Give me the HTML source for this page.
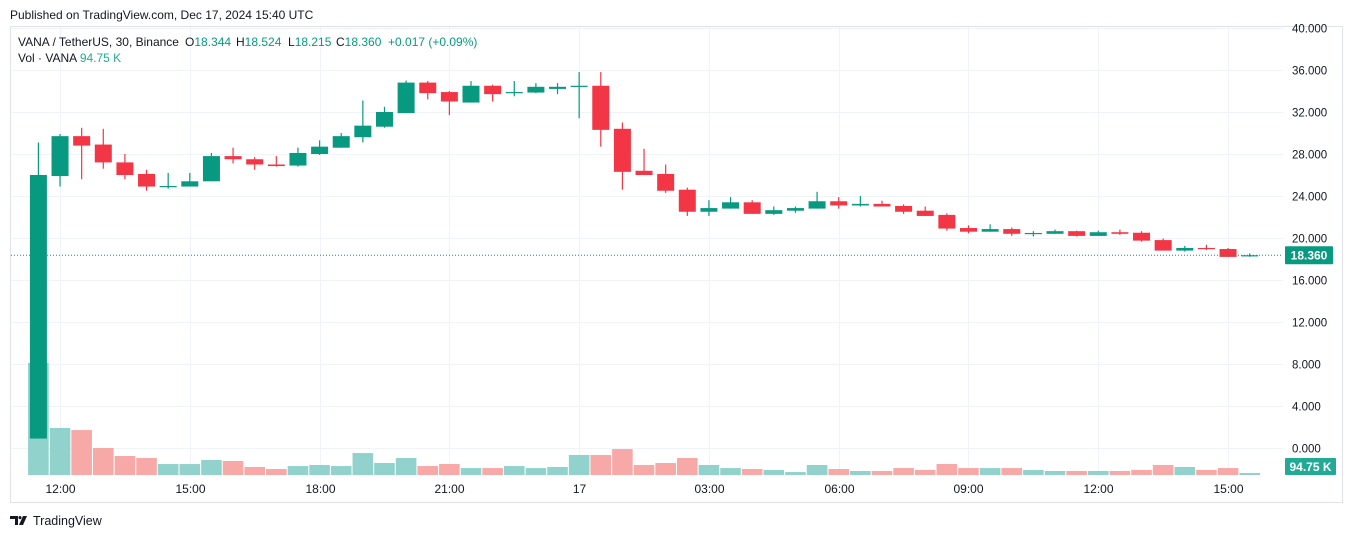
<!DOCTYPE html>
<html><head><meta charset="utf-8"><style>
html,body{margin:0;padding:0;background:#fff;width:1352px;height:538px;overflow:hidden;font-family:"Liberation Sans",sans-serif}
svg text{font-family:"Liberation Sans",sans-serif}
</style></head><body>
<svg id="chart" width="1352" height="538" viewBox="0 0 1352 538" xmlns="http://www.w3.org/2000/svg">
<text x="10" y="19" font-size="12" fill="#131722">Published on TradingView.com, Dec 17, 2024 15:40 UTC</text>
<rect x="10.5" y="26.5" width="1332" height="476" fill="none" stroke="#e0e3eb"/>
<g id="grid"></g>
<g id="vols"></g>
<g id="candles"></g>
<g id="axes"></g>
<g font-size="12">
<text x="18" y="46" fill="#131722">VANA / TetherUS, 30, Binance</text>
<text x="185" y="46" fill="#131722">O<tspan fill="#089981">18.344</tspan></text>
<text x="236" y="46" fill="#131722">H<tspan fill="#089981">18.524</tspan></text>
<text x="288" y="46" fill="#131722">L<tspan fill="#089981">18.215</tspan></text>
<text x="336" y="46" fill="#131722">C<tspan fill="#089981">18.360</tspan></text>
<text x="388" y="46" fill="#089981">+0.017 (+0.09%)</text>
<text x="18" y="62" fill="#131722">Vol · VANA  <tspan fill="#22ab94">94.75 K</tspan></text>
</g>
<g>
<path d="M10 516h8v9h-3v-6h-5z M20 516a1.6 1.6 0 1 0 0.01 0 M23 516h4l-4 9h-4z" fill="#131722"/>
<text x="33" y="525" font-size="12.5" fill="#131722">TradingView</text>
</g>
</svg>
<script>
const timeLabels = ["12:00","15:00","18:00","21:00","17","03:00","06:00","09:00","12:00","15:00"];
const timeLabelIdx = [1,7,13,19,25,31,37,43,49,55];
const priceTicks = [0,4,8,12,16,20,24,28,32,36,40];
const opens  = [0.9,25.9,29.7,28.9,27.2,26.1,24.85,24.9,25.4,27.8,27.5,27.0,26.9,28.0,28.6,29.6,30.6,31.9,34.8,33.9,32.9,34.5,33.8,33.85,34.2,34.45,34.5,30.4,26.4,26.1,24.6,22.5,22.8,23.4,22.3,22.6,22.8,23.5,23.1,23.25,23.05,22.6,22.2,20.95,20.6,20.85,20.42,20.4,20.65,20.2,20.55,20.5,19.8,18.8,19.05,18.95,18.344];
const highs  = [29.1,29.9,30.5,30.4,28.0,26.5,26.2,26.2,28.1,28.6,27.7,27.8,28.6,29.3,30.0,33.1,32.5,35.0,34.95,34.0,34.95,34.6,34.95,34.75,34.75,35.8,35.8,31.0,28.5,27.0,24.8,23.6,23.9,23.6,23.0,23.0,24.4,23.9,24.0,23.55,23.2,23.0,22.35,21.2,21.3,21.0,20.65,20.8,20.7,20.7,20.8,20.65,19.95,19.25,19.35,19.05,18.524];
const lows   = [0.9,24.9,25.6,26.6,25.6,24.5,24.7,24.9,25.4,27.1,26.5,26.8,26.8,27.9,28.6,29.1,30.5,31.9,33.2,31.7,32.9,33.0,33.5,33.8,33.7,31.4,28.7,24.6,26.0,24.3,22.1,22.1,22.8,22.3,22.2,22.4,22.8,22.8,23.0,23.0,22.3,22.1,20.7,20.45,20.6,20.2,20.15,20.4,20.15,20.2,20.3,19.65,18.8,18.7,18.85,18.2,18.215];
const closes = [26.0,29.7,28.8,27.2,26.0,24.9,24.95,25.4,27.8,27.5,27.0,26.85,28.1,28.7,29.7,30.7,32.0,34.8,33.8,33.0,34.5,33.7,33.9,34.4,34.4,34.5,30.3,26.3,26.0,24.5,22.5,22.85,23.4,22.3,22.65,22.85,23.5,23.1,23.25,23.0,22.5,22.1,20.9,20.6,20.85,20.4,20.48,20.65,20.2,20.55,20.4,19.75,18.8,19.05,18.95,18.2,18.36];
const volumesK = [5310,2230,2130,1280,900,805,520,520,710,665,380,285,425,475,425,1040,570,805,425,520,330,330,425,330,380,950,950,1230,475,570,805,475,330,285,240,140,475,285,190,190,330,240,520,330,330,330,240,190,190,190,190,240,475,380,240,330,94.75];
const lastPrice = 18.36;

const NS="http://www.w3.org/2000/svg";
const x0=38.4, step=21.63;
const xAt = i => x0 + i*step;
const yAt = p => 448 - p*10.5;
const volBase = 475, volPerPx = 47.4;
const vh = v => v/volPerPx;
function mk(tag, attrs, parent){const e=document.createElementNS(NS,tag);for(const k in attrs)e.setAttribute(k,attrs[k]);parent.appendChild(e);return e;}
const grid=document.getElementById('grid'), cg=document.getElementById('candles'), vg=document.getElementById('vols'), ax=document.getElementById('axes');

priceTicks.forEach(p=>{
  const y=Math.round(yAt(p))+0.5;
  const l=mk('line',{x1:11,x2:1283,y1:y,y2:y,stroke:'#f0f3fa'},grid);
  
  
  const t=mk('text',{x:1292,y:y+4,'font-size':11.5,fill:'#131722'},ax);
  t.textContent=p.toFixed(3);
  
  
});
timeLabels.forEach((s,k)=>{
  const x=Math.round(xAt(timeLabelIdx[k]))+0.5;
  const l=mk('line',{x1:x,x2:x,y1:27,y2:476,stroke:'#f0f3fa'},grid);
  
  
  const t=mk('text',{x:x,y:493,'font-size':12,fill:'#131722','text-anchor':'middle'},ax);
  t.textContent=s;
  
  
});
volumesK.forEach((v,i)=>{
  const up=closes[i]>=opens[i];
  const h=vh(v);
  const r=mk('rect',{x:xAt(i)-10.3,y:volBase-h,width:20.6,height:h,fill:up?'#92d2cc':'#f7a9a7'},vg);
  
  
});
opens.forEach((o,i)=>{
  const c=closes[i], up=c>=o, col=up?'#089981':'#f23645', x=xAt(i);
  const g=mk('g',{},cg);
  
  
  mk('line',{x1:x,x2:x,y1:yAt(highs[i]),y2:yAt(lows[i]),stroke:col,'stroke-width':1.2},g);
  const top=yAt(Math.max(o,c)), bh=Math.max(1.2,Math.abs(yAt(o)-yAt(c)));
  mk('rect',{x:x-8.5,y:top,width:17,height:bh,fill:col},g);
});
const ly=yAt(lastPrice);
const pl=mk('line',{x1:11,x2:1283,y1:ly,y2:ly,stroke:'#089981','stroke-dasharray':'1 2'},ax);


const pb=mk('rect',{x:1285,y:ly-9,width:48,height:18,fill:'#089981',rx:1},ax);


const pt=mk('text',{x:1309,y:ly+4.5,'font-size':12,fill:'#fff','text-anchor':'middle','font-weight':'bold'},ax);
pt.textContent=lastPrice.toFixed(3);
const vb=mk('rect',{x:1285,y:458,width:51,height:17,fill:'#22ab94',rx:1},ax);


const vt=mk('text',{x:1310.5,y:471,'font-size':12,fill:'#fff','text-anchor':'middle','font-weight':'bold'},ax);
vt.textContent=volumesK[volumesK.length-1].toFixed(2)+' K';
</script>
</body></html>
